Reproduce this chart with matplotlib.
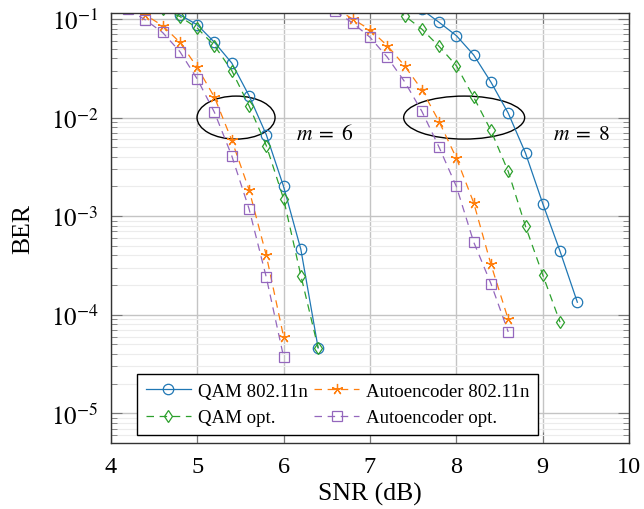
import matplotlib
matplotlib.use("Agg")
import matplotlib.pyplot as plt
from matplotlib.patches import Ellipse
from matplotlib.transforms import ScaledTranslation
import numpy as np

plt.rcParams['font.family'] = ['Liberation Serif', 'DejaVu Serif']
plt.rcParams['mathtext.fontset'] = 'stix'

# ---- data (m = 6) ----
qam_n_x6 = [4.6, 4.8, 5.0, 5.2, 5.4, 5.6, 5.8, 6.0, 6.2, 6.4]
qam_n_y6 = [0.13, 0.11, 0.0875, 0.058, 0.0358, 0.0167, 0.0067, 0.0020, 4.6e-4, 4.6e-5]
qam_o_x6 = [4.6, 4.8, 5.0, 5.2, 5.4, 5.6, 5.8, 6.0, 6.2, 6.4]
qam_o_y6 = [0.125, 0.106, 0.081, 0.0537, 0.030, 0.0132, 0.0052, 0.0015, 2.5e-4, 4.6e-5]
ae_n_x6 = [4.2, 4.4, 4.6, 4.8, 5.0, 5.2, 5.4, 5.6, 5.8, 6.0]
ae_n_y6 = [0.135, 0.11, 0.0855, 0.058, 0.0324, 0.0161, 0.0059, 0.00186, 4.0e-4, 6.0e-5]
ae_o_x6 = [4.2, 4.4, 4.6, 4.8, 5.0, 5.2, 5.4, 5.6, 5.8, 6.0]
ae_o_y6 = [0.125, 0.098, 0.073, 0.0467, 0.0247, 0.0113, 0.0041, 0.00119, 2.4e-4, 3.75e-5]

# ---- data (m = 8) ----
qam_n_x8 = [7.6, 7.8, 8.0, 8.2, 8.4, 8.6, 8.8, 9.0, 9.2, 9.4]
qam_n_y8 = [0.125, 0.0925, 0.0678, 0.0432, 0.0229, 0.0111, 0.00436, 0.00134, 4.4e-4, 1.34e-4]
qam_o_x8 = [7.2, 7.4, 7.6, 7.8, 8.0, 8.2, 8.4, 8.6, 8.8, 9.0, 9.2]
qam_o_y8 = [0.145, 0.108, 0.079, 0.0528, 0.0336, 0.0161, 0.0074, 0.00284, 7.9e-4, 2.53e-4, 8.4e-5]
ae_n_x8 = [6.6, 6.8, 7.0, 7.2, 7.4, 7.6, 7.8, 8.0, 8.2, 8.4, 8.6]
ae_n_y8 = [0.128, 0.1, 0.078, 0.0537, 0.0336, 0.0192, 0.0091, 0.00389, 0.00137, 3.24e-4, 9.0e-5]
ae_o_x8 = [6.6, 6.8, 7.0, 7.2, 7.4, 7.6, 7.8, 8.0, 8.2, 8.4, 8.6]
ae_o_y8 = [0.12, 0.091, 0.0653, 0.041, 0.0232, 0.0116, 0.0050, 0.0020, 5.47e-4, 2.07e-4, 6.7e-5]

labels = ['QAM 802.11n', 'QAM opt.', 'Autoencoder 802.11n', 'Autoencoder opt.']
x_ticks = [4, 5, 6, 7, 8, 9, 10]
y_ticks = [1e-5, 1e-4, 1e-3, 1e-2, 1e-1]

colors = ['#1f77b4', '#2ca02c', '#ff7f0e', '#9467bd']

fig = plt.figure(figsize=(6.44, 5.10), dpi=100)
ax = fig.add_axes([0.172, 0.1294, 0.805, 0.8431])

dash = (0, (6, 4.5))
styles = [
    dict(color=colors[0], ls='-', marker='o', ms=7.5, mfc='none', mew=0.9, lw=0.9),
    dict(color=colors[1], ls=dash, marker='d', ms=6.5, mfc='none', mew=0.9, lw=0.9),
    dict(color=colors[2], ls=dash, marker=(5, 2, 0), ms=8, mfc='none', mew=0.9, lw=0.9),
    dict(color=colors[3], ls=dash, marker='s', ms=7.8, mfc='none', mew=0.9, lw=0.9),
]
series6 = [(qam_n_x6, qam_n_y6), (qam_o_x6, qam_o_y6), (ae_n_x6, ae_n_y6), (ae_o_x6, ae_o_y6)]
series8 = [(qam_n_x8, qam_n_y8), (qam_o_x8, qam_o_y8), (ae_n_x8, ae_n_y8), (ae_o_x8, ae_o_y8)]
handles = []
for (x, y), (x8, y8), st, lab in zip(series6, series8, styles, labels):
    h, = ax.plot(x, y, label=lab, **st)
    ax.plot(x8, y8, **st)
    handles.append(h)

ax.set_yscale('log')
ax.set_xlim(4, 10)
ax.set_ylim(5e-6, 0.115)
ax.set_xticks(x_ticks)
ax.set_yticks(y_ticks)
ax.set_yticklabels([r'$10^{-5}$', r'$10^{-4}$', r'$10^{-3}$', r'$10^{-2}$', r'$10^{-1}$'])
ax.set_xticklabels([str(t) for t in x_ticks])

ax.grid(True, which='major', color='#c4c4c4', lw=1.0)
ax.grid(True, which='minor', axis='y', color='#ececec', lw=0.8)
ax.set_axisbelow(True)
ax.tick_params(which='both', direction='in', top=True, right=True, colors='#777777',
               labelcolor='black')
ax.tick_params(axis='y', labelsize=18)
ax.tick_params(axis='x', labelsize=17.5)
ax.tick_params(which='major', length=8, width=0.8, pad=9)
ax.tick_params(which='minor', length=4.5, width=0.6)
ax.tick_params(axis='x', which='minor', bottom=False, top=False)
for sp in ax.spines.values():
    sp.set_color('#333333')
    sp.set_linewidth(1.0)

ax.set_xlabel('SNR (dB)', fontsize=18.5, labelpad=4)
ax.set_ylabel('BER', fontsize=18.5, labelpad=12)

# ellipses (sizes in inches, centred at data points)
for cx, cy, w, h in [(5.45, 1e-2, 0.78, 0.43), (8.09, 1e-2, 1.21, 0.43)]:
    e = Ellipse((0, 0), w, h, fill=False, ec='black', lw=1.0,
                transform=fig.dpi_scale_trans + ScaledTranslation(cx, cy, ax.transData))
    ax.add_patch(e)

ax.text(6.47, 6.8e-3, r'$m\;=\;6$', fontsize=15.5, ha='center', va='center')
ax.text(9.45, 6.8e-3, r'$m\;=\;8$', fontsize=15.5, ha='center', va='center')

leg = ax.legend(handles=handles, ncol=2, loc='lower left', bbox_to_anchor=(0.051, 0.019),
                fontsize=13.6, frameon=True, fancybox=False, edgecolor='black',
                framealpha=1, handlelength=2.4, handletextpad=0.35, columnspacing=0.35,
                borderpad=0.45, labelspacing=0.5, borderaxespad=0)
leg.get_frame().set_linewidth(1.0)

fig.savefig('out.png', dpi=100)
